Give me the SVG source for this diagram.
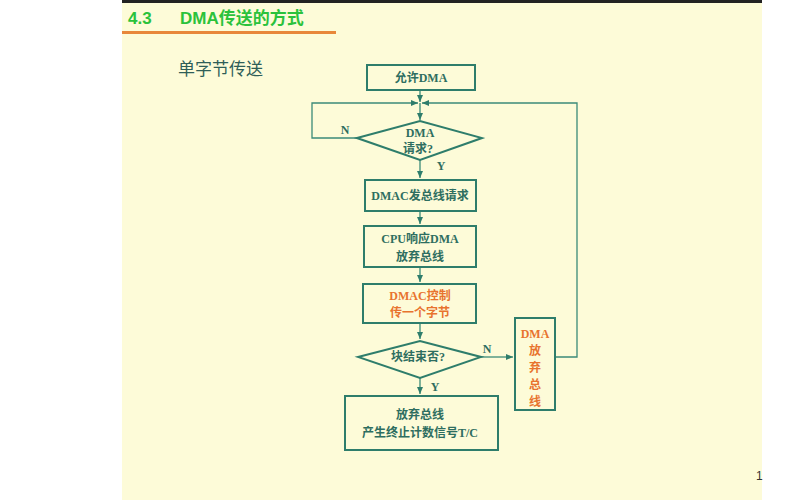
<svg xmlns="http://www.w3.org/2000/svg" width="799" height="500" viewBox="0 0 799 500">
<style>
.b{fill:none;stroke:#2e7d6b;stroke-width:2}
.l{fill:none;stroke:#3b8a78;stroke-width:1.3}
.t{font-family:"Liberation Serif","Noto Sans CJK SC",serif;font-size:12px;font-weight:bold;fill:#2e6e60;text-anchor:middle}
.o{fill:#e8732e}
</style>
<defs><marker id="a" markerWidth="8" markerHeight="8" refX="7" refY="4" orient="auto" markerUnits="userSpaceOnUse"><path d="M0,1 L7,4 L0,7z" fill="#2e7d6b"/></marker></defs>
<rect width="799" height="500" fill="#fff"/>
<rect x="122" y="0" width="640" height="500" fill="#fdfbd8"/>
<rect x="122" y="0" width="640" height="3" fill="#222"/>
<text x="128" y="24" font-family="Liberation Sans,Noto Sans CJK SC,sans-serif" font-size="17" font-weight="bold" fill="#2bc23b">4.3</text>
<text x="180" y="24" font-family="Liberation Sans,Noto Sans CJK SC,sans-serif" font-size="17" font-weight="bold" fill="#2bc23b">DMA传送的方式</text>
<rect x="122" y="31" width="214" height="3" fill="#e8873a"/>
<text x="178" y="75" font-family="Noto Sans CJK SC,sans-serif" font-size="17" fill="#2e5e58">单字节传送</text>
<text x="756" y="480" font-family="Liberation Sans,sans-serif" font-size="12" fill="#333">1</text>
<g id="connectors">
<path class="l" d="M420,90 V102" marker-end="url(#a)"/>
<path class="l" d="M420,103 V120" marker-end="url(#a)"/>
<path class="l" d="M357,138 H312 V103 H418" marker-end="url(#a)"/>
<path class="l" d="M555,357 H577 V103 H422" marker-end="url(#a)"/>
<path class="l" d="M420,160 V178" marker-end="url(#a)"/>
<path class="l" d="M420,211 V224" marker-end="url(#a)"/>
<path class="l" d="M420,267 V282" marker-end="url(#a)"/>
<path class="l" d="M420,323 V339" marker-end="url(#a)"/>
<path class="l" d="M481,357 H513" marker-end="url(#a)"/>
<path class="l" d="M420,378 V394" marker-end="url(#a)"/>
<text class="t" x="345" y="134" font-size="10">N</text>
<text class="t" x="441" y="170" font-size="10">Y</text>
<text class="t" x="487" y="353" font-size="10">N</text>
<text class="t" x="435" y="391" font-size="10">Y</text>
</g>
<g id="n1"><rect class="b" x="367" y="65" width="108" height="25"/><text class="t" x="421" y="82">允许DMA</text></g>
<g id="n2"><path class="b" d="M357,138 L420,121 L482,138 L420,160z"/><text class="t" x="420" y="137">DMA</text><text class="t" x="418" y="153">请求?</text></g>
<g id="n3"><rect class="b" x="365" y="180" width="111" height="31"/><text class="t" x="420" y="200">DMAC发总线请求</text></g>
<g id="n4"><rect class="b" x="364" y="226" width="112" height="41"/><text class="t" x="420" y="243">CPU响应DMA</text><text class="t" x="420" y="261" font-size="13">放弃总线</text></g>
<g id="n5"><rect class="b" x="363" y="284" width="113" height="39"/><text class="t o" x="420" y="300">DMAC控制</text><text class="t o" x="420" y="317">传一个字节</text></g>
<g id="n6"><path class="b" d="M358,357 L420,341 L481,357 L420,378z"/><text class="t" x="418" y="361">块结束否?</text></g>
<g id="n7"><rect class="b" x="515" y="318" width="40" height="92"/><text class="t o" x="535" y="338">DMA</text><text class="t o" x="535" y="355">放</text><text class="t o" x="535" y="372">弃</text><text class="t o" x="535" y="389">总</text><text class="t o" x="535" y="406">线</text></g>
<g id="n8"><rect class="b" x="345" y="396" width="153" height="54"/><text class="t" x="420" y="419">放弃总线</text><text class="t" x="420" y="437">产生终止计数信号T/C</text></g>
</svg>
